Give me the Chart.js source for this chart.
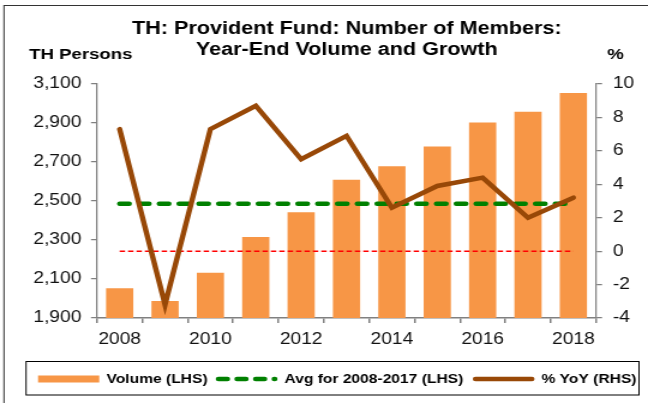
<!DOCTYPE html>
<html>
<head>
<meta charset="utf-8">
<script src="https://cdn.jsdelivr.net/npm/chart.js@4.4.1/dist/chart.umd.min.js"></script>
<style>
  html, body { margin: 0; padding: 0; background: #fff; overflow: hidden; }
  /* the original picture is stretched sideways, so the canvas is too */
  #wrap { width: 540px; height: 403px; transform: scaleX(1.2); transform-origin: 0 0; }
</style>
</head>
<body>
<div id="wrap"><canvas id="chart" width="540" height="403"></canvas></div>
<script>
const years = ['2008', '2009', '2010', '2011', '2012', '2013', '2014', '2015', '2016', '2017', '2018'];
const tickYears = ['2008', '2010', '2012', '2014', '2016', '2018'];
const volume = [2052, 1987, 2132, 2315, 2442, 2609, 2678, 2780, 2902, 2958, 3054];
const avg2008to2017 = [2486, 2486, 2486, 2486, 2486, 2486, 2486, 2486, 2486, 2486, 2486];
const yoy = [7.3, -3.2, 7.3, 8.7, 5.5, 6.9, 2.6, 3.9, 4.4, 2.0, 3.2];
const zeroLine = [0, 0, 0, 0, 0, 0, 0, 0, 0, 0, 0];

const FONT = "'Liberation Sans', Arial, Helvetica, sans-serif";
const AXIS_GREY = '#808080';

// canvas units (picture x / 1.2)
const plotLeft = 80.8, plotRight = 496.7, plotTop = 84, plotBottom = 318;
const legendItemX = [31.7, 180, 394.2];

const decorations = {
    id: 'decorations',
    afterDraw(chart) {
        const ctx = chart.ctx;
        ctx.save();

        // outer frame, only top and left edges are in the picture
        ctx.strokeStyle = '#333';
        ctx.lineWidth = 1;
        ctx.strokeRect(3.3, 5.5, 600, 500);

        ctx.fillStyle = '#000';
        ctx.font = `bold 18px ${FONT}`;
        ctx.textAlign = 'center';
        ctx.textBaseline = 'alphabetic';
        ctx.fillText('TH: Provident Fund: Number of Members:', 289, 33.5);
        ctx.fillText('Year-End Volume and Growth', 289, 54.5);

        ctx.font = `bold 15.5px ${FONT}`;
        ctx.textAlign = 'left';
        ctx.fillText('TH Persons', 24.2, 59);
        ctx.textAlign = 'center';
        ctx.fillText('%', 513, 59);

        // legend
        ctx.strokeStyle = '#000';
        ctx.lineWidth = 1;
        ctx.strokeRect(21.7, 361.5, 510.8, 33.5);

        const sampleW = 51;
        const midY = 379;
        ctx.font = `bold 13px ${FONT}`;
        ctx.textAlign = 'left';
        ctx.textBaseline = 'middle';
        chart.data.datasets.filter(ds => ds.label).forEach((ds, i) => {
            const x = legendItemX[i];
            ctx.save();
            if (ds.type === 'line') {
                ctx.strokeStyle = ds.borderColor;
                ctx.lineWidth = ds.borderWidth;
                ctx.lineCap = 'round';
                ctx.setLineDash(ds.borderDash ? [7.5, 8] : []);
                ctx.beginPath();
                ctx.moveTo(x + 2, midY);
                ctx.lineTo(x + sampleW - 2, midY);
                ctx.stroke();
            } else {
                ctx.fillStyle = ds.backgroundColor;
                ctx.fillRect(x, midY - 3.5, sampleW, 7);
            }
            ctx.restore();
            ctx.fillText(ds.label, x + sampleW + 6, midY);
        });

        ctx.restore();
    }
};

new Chart(document.getElementById('chart'), {
    type: 'bar',
    data: {
        labels: years,
        datasets: [
            {
                type: 'bar',
                label: 'Volume (LHS)',
                data: volume,
                yAxisID: 'y',
                backgroundColor: '#F79646',
                barPercentage: 0.6,
                categoryPercentage: 1,
                order: 3
            },
            {
                type: 'line',
                label: 'Avg for 2008-2017 (LHS)',
                data: avg2008to2017,
                yAxisID: 'y',
                borderColor: '#008000',
                borderWidth: 4.5,
                borderDash: [8, 8.5],
                borderCapStyle: 'round',
                pointRadius: 0,
                fill: false,
                order: 1
            },
            {
                type: 'line',
                label: '% YoY (RHS)',
                data: yoy,
                yAxisID: 'y1',
                borderColor: '#984807',
                borderWidth: 4.5,
                borderCapStyle: 'round',
                borderJoinStyle: 'miter',
                pointRadius: 0,
                tension: 0,
                fill: false,
                order: 0
            },
            {
                type: 'line',
                label: '',
                data: zeroLine,
                yAxisID: 'y1',
                borderColor: '#FF0000',
                borderWidth: 1.5,
                borderDash: [4.5, 2.5],
                pointRadius: 0,
                fill: false,
                order: 2
            }
        ]
    },
    options: {
        responsive: false,
        animation: false,
        devicePixelRatio: 1,
        layout: {padding: {top: plotTop, left: 0, right: 0, bottom: 0}},
        plugins: {
            legend: {display: false},
            title: {display: false},
            tooltip: {enabled: false}
        },
        scales: {
            x: {
                offset: true,
                grid: {offset: true, drawOnChartArea: false, color: AXIS_GREY, lineWidth: 1.5, tickLength: 5},
                border: {color: AXIS_GREY, width: 1.5},
                ticks: {
                    autoSkip: false,
                    maxRotation: 0,
                    padding: 7,
                    color: '#111',
                    font: {family: FONT, size: 16},
                    callback: (v, i) => tickYears.includes(years[i]) ? years[i] : ''
                },
                afterFit: scale => { scale.height = 403 - plotBottom; }
            },
            y: {
                position: 'left',
                min: 1900,
                max: 3100,
                grid: {drawOnChartArea: false, color: AXIS_GREY, lineWidth: 1.25, tickLength: 5},
                border: {color: AXIS_GREY, width: 1.25},
                ticks: {
                    stepSize: 200,
                    padding: 8,
                    color: '#111',
                    font: {family: FONT, size: 16},
                    callback: v => v.toLocaleString('en-US')
                },
                afterFit: scale => { scale.width = plotLeft; }
            },
            y1: {
                position: 'right',
                min: -4,
                max: 10,
                grid: {drawOnChartArea: false, color: AXIS_GREY, lineWidth: 1.25, tickLength: 5},
                border: {color: AXIS_GREY, width: 1.25},
                ticks: {
                    stepSize: 2,
                    padding: 9,
                    color: '#111',
                    font: {family: FONT, size: 16}
                },
                afterFit: scale => { scale.width = 540 - plotRight; }
            }
        }
    },
    plugins: [decorations]
});
</script>
</body>
</html>
